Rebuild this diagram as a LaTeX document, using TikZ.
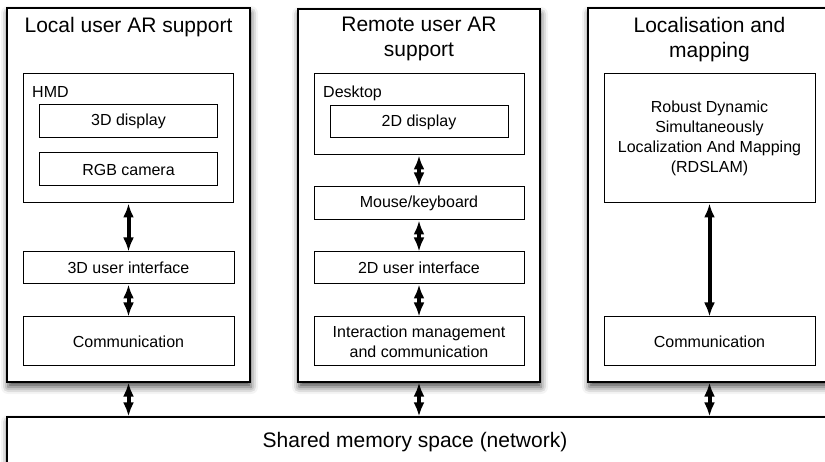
\documentclass[tikz,border=0pt]{standalone}
\usepackage{fontspec}
\setmainfont{Liberation Sans}
\usetikzlibrary{arrows.meta,shadows.blur}

\begin{document}
\begin{tikzpicture}[x=1pt,y=-1pt]
\tikzstyle{panel} = [draw, line width=1.2pt, fill=white, inner sep=0pt, blur shadow={shadow xshift=1pt, shadow yshift=-5pt, shadow blur radius=7pt, shadow opacity=70}]
\tikzstyle{box} = [draw, line width=1pt, fill=white, inner sep=0pt, align=center, font=\fontsize{16}{20}\selectfont]
\tikzstyle{title} = [inner sep=0pt, anchor=north, align=center, font=\fontsize{21}{25}\selectfont]
\tikzstyle{tag} = [inner sep=0pt, anchor=base west, font=\fontsize{16}{20}\selectfont]
\tikzset{link/.style={line width=4pt, {Latex[length=14pt,width=11pt]}-{Latex[length=14pt,width=11pt]}}}

\clip (0,0) rectangle (825,462);

\node [panel, minimum width=853pt, minimum height=83pt] (shared) at (433.5,458.5) {};
\node [inner sep=0pt, anchor=base, font=\fontsize{21}{25}\selectfont] at (415,447) {Shared memory space (network)};

\node [panel, minimum width=243pt, minimum height=374pt] (p1) at (128.5,195) {};
\node [title] at (128.5,17) {Local user AR support};
\node [box, minimum width=210pt, minimum height=129pt] (hmd) at (128.5,138.5) {};
\node [tag] at (32,98) {HMD};
\node [box, minimum width=178pt, minimum height=33pt] (disp3d) at (128.5,121.5) {3D display};
\node [box, minimum width=178pt, minimum height=33pt] (rgbcam) at (128.5,169.5) {RGB camera};
\node [box, minimum width=211pt, minimum height=32pt] (ui3d) at (128.5,268) {3D user interface};
\node [box, minimum width=211pt, minimum height=49pt] (comm1) at (128.5,341.5) {Communication};

\node [panel, minimum width=242pt, minimum height=373pt] (p2) at (419,195.5) {};
\node [title] at (419,17) {Remote user AR\\support};
\node [box, minimum width=210pt, minimum height=81pt] (desktop) at (419,114.5) {};
\node [tag] at (323,98) {Desktop};
\node [box, minimum width=178pt, minimum height=32pt] (disp2d) at (419,122) {2D display};
\node [box, minimum width=210pt, minimum height=33pt] (mouse) at (419,203.5) {Mouse/keyboard};
\node [box, minimum width=210pt, minimum height=32pt] (ui2d) at (419,268) {2D user interface};
\node [box, minimum width=210pt, minimum height=49pt] (interact) at (419,341.5) {Interaction management\\and communication};

\node [panel, minimum width=262pt, minimum height=374pt] (p3) at (719,195) {};
\node [title] at (709.5,17) {Localisation and\\mapping};
\node [box, minimum width=211pt, minimum height=129pt] (rdslam) at (709.5,138.5) {Robust Dynamic\\Simultaneously\\Localization And Mapping\\(RDSLAM)};
\node [box, minimum width=211pt, minimum height=49pt] (comm3) at (709.5,341.5) {Communication};

\draw [link] (hmd) -- (ui3d);
\draw [link] (ui3d) -- (comm1);
\draw [link] (desktop) -- (mouse);
\draw [link] (mouse) -- (ui2d);
\draw [link] (ui2d) -- (interact);
\draw [link] (rdslam) -- (comm3);
\draw [link] (p1.south) -- (p1.south |- shared.north);
\draw [link] (p2.south) -- (p2.south |- shared.north);
\draw [link] (comm3.south |- p3.south) -- (comm3.south |- shared.north);

\end{tikzpicture}
\end{document}
